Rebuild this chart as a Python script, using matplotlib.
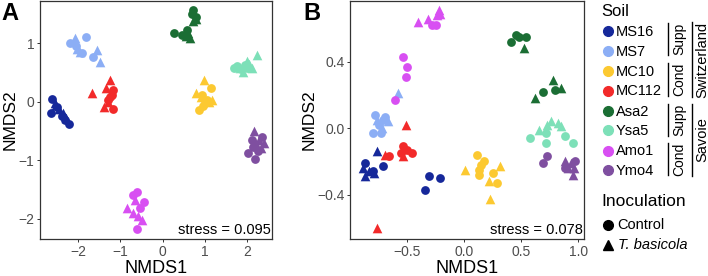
import matplotlib
matplotlib.use("Agg")
import matplotlib.pyplot as plt

plt.rcParams['font.family'] = ['Liberation Sans', 'DejaVu Sans']

soils = ["MS16", "MS7", "MC10", "MC112", "Asa2", "Ysa5", "Amo1", "Ymo4"]
soil_colors = ["#16289A", "#8CAEF5", "#FCC931", "#F22A2A", "#1B6E34", "#7DE0B8", "#D84FF2", "#7F4FA0"]

# Panel A: (x list, y list) per soil
A_control = {
    "MS16": ([-2.61, -2.65, -2.50, -2.38, -2.30, -2.22], [0.04, -0.19, -0.09, -0.25, -0.31, -0.38]),
    "MS7": ([-2.19, -1.80, -1.90, -1.65, -2.05], [1.01, 1.11, 0.83, 0.76, 0.95]),
    "MC10": ([1.14, 0.93, 1.01, 0.87, 0.95, 1.05], [0.23, 0.11, -0.03, -0.14, -0.08, 0.02]),
    "MC112": ([-1.17, -1.24, -1.17, -1.28, -1.20], [0.19, 0.07, -0.12, 0.03, 0.12]),
    "Asa2": ([0.72, 0.80, 0.26, 0.46, 0.57, 0.70], [1.57, 1.44, 1.17, 1.14, 1.22, 1.50]),
    "Ysa5": ([1.68, 1.77, 1.85, 1.95, 2.00], [0.58, 0.60, 0.55, 0.62, 0.57]),
    "Amo1": ([-0.61, -0.70, -0.45, -0.53, -0.61], [-1.55, -1.60, -1.71, -1.82, -2.18]),
    "Ymo4": ([2.35, 2.11, 2.03, 2.19, 2.15, 2.25], [-0.60, -0.65, -0.88, -0.98, -0.77, -0.85]),
}
A_basicola = {
    "MS16": ([-2.55, -2.45, -2.35, -2.52, -2.28], [-0.03, -0.12, -0.20, -0.06, -0.28]),
    "MS7": ([-2.08, -1.55, -1.49, -2.02, -1.95], [1.08, 0.88, 0.68, 0.90, 0.85]),
    "MC10": ([0.97, 0.80, 1.17, 1.10, 0.92], [0.37, 0.14, 0.03, 0.00, 0.08]),
    "MC112": ([-1.67, -1.24, -1.33, -1.38, -1.30], [0.15, 0.37, 0.23, -0.085, 0.00]),
    "Asa2": ([0.72, 0.78, 0.65, 0.55, 0.60], [1.37, 1.42, 1.08, 1.12, 1.18]),
    "Ysa5": ([2.24, 1.99, 1.83, 2.11, 1.91, 2.05], [0.80, 0.70, 0.57, 0.57, 0.51, 0.65]),
    "Amo1": ([-0.84, -0.69, -0.49, -0.65, -0.58], [-1.82, -1.91, -2.02, -1.68, -1.95]),
    "Ymo4": ([2.17, 2.39, 2.28, 2.22, 2.32], [-0.51, -0.71, -0.66, -0.72, -0.79]),
}

# Panel B
B_control = {
    "MS16": ([-0.87, -0.71, -0.80, -0.31, -0.21, -0.34], [-0.21, -0.23, -0.26, -0.29, -0.30, -0.37]),
    "MS7": ([-0.78, -0.69, -0.75, -0.80, -0.73, -0.71], [0.08, 0.07, 0.02, -0.03, -0.03, 0.05]),
    "MC10": ([0.11, 0.17, 0.15, 0.13, 0.13, 0.25, 0.29], [-0.16, -0.20, -0.22, -0.25, -0.28, -0.27, -0.33]),
    "MC112": ([-0.54, -0.50, -0.46, -0.55, -0.66], [-0.11, -0.13, -0.15, -0.15, -0.17]),
    "Asa2": ([0.41, 0.45, 0.48, 0.54, 0.69, 0.80], [0.52, 0.56, 0.55, 0.55, 0.22, 0.23]),
    "Ysa5": ([0.58, 0.72, 0.72, 0.88, 0.95], [-0.06, -0.09, -0.03, -0.05, -0.09]),
    "Amo1": ([-0.28, -0.25, -0.54, -0.50, -0.51, -0.61], [0.62, 0.62, 0.43, 0.37, 0.31, 0.17]),
    "Ymo4": ([0.69, 0.73, 0.88, 0.97], [-0.21, -0.17, -0.24, -0.20]),
}
B_basicola = {
    "MS16": ([-0.76, -0.89, -0.87, -0.79, -0.83], [-0.14, -0.24, -0.29, -0.27, -0.26]),
    "MS7": ([-0.58, -0.67, -0.76, -0.72], [0.21, 0.04, 0.05, 0.00]),
    "MC10": ([0.01, 0.31, 0.22, 0.23], [-0.25, -0.23, -0.32, -0.43]),
    "MC112": ([-0.51, -0.76, -0.69, -0.54], [0.02, -0.60, -0.16, -0.17]),
    "Asa2": ([0.52, 0.62, 0.78, 0.85], [0.48, 0.18, 0.29, 0.24]),
    "Ysa5": ([0.66, 0.73, 0.76, 0.82, 0.85], [-0.01, 0.02, 0.04, 0.03, 0.01]),
    "Amo1": ([-0.40, -0.32, -0.22, -0.21, -0.24], [0.64, 0.66, 0.71, 0.69, 0.68]),
    "Ymo4": ([0.88, 0.94, 0.91, 0.96, 0.95], [-0.20, -0.21, -0.24, -0.24, -0.28]),
}

A_xticks = [-2, -1, 0, 1, 2]
A_yticks = [-2, -1, 0, 1]
B_xticks = [-0.5, 0.0, 0.5, 1.0]
B_yticks = [-0.4, 0.0, 0.4]
stress_A = "stress = 0.095"
stress_B = "stress = 0.078"

W, H = 708, 276
fig = plt.figure(figsize=(W / 100, H / 100), dpi=100)

def px_axes(l, r, t, b):
    return fig.add_axes([l / W, 1 - b / H, (r - l) / W, (b - t) / H])

TICKC = "#4D4D4D"

def style(ax, xt, yt, xfmt, yfmt):
    for s in ax.spines.values():
        s.set_color("#333333")
        s.set_linewidth(0.9)
    ax.set_xticks(xt)
    ax.set_yticks(yt)
    ax.set_xticklabels([xfmt(v).replace("-", "\u2212") for v in xt])
    ax.set_yticklabels([yfmt(v).replace("-", "\u2212") for v in yt])
    ax.tick_params(length=2.5, width=0.7, color="#333333", labelsize=10,
                   labelcolor=TICKC, pad=1.5)
    ax.set_xlabel("NMDS1", fontsize=13, labelpad=1)
    ax.set_ylabel("NMDS2", fontsize=12.5, labelpad=0.5)

def draw(ax, ctrl, tb):
    for soil, col in zip(soils, soil_colors):
        x, y = ctrl[soil]
        ax.scatter(x, y, s=40, marker="o", color=col, linewidths=0, zorder=3)
        x, y = tb[soil]
        ax.scatter(x, y, s=48, marker="^", color=col, linewidths=0, zorder=3)

axA = px_axes(40, 272, 1, 239)
draw(axA, A_control, A_basicola)
axA.set_xlim(-2.9, 2.59)
axA.set_ylim(-2.35, 1.72)
style(axA, A_xticks, A_yticks, lambda v: f"{v:d}", lambda v: f"{v:d}")
axA.text(0.995, 0.01, stress_A, transform=axA.transAxes, ha="right", va="bottom", fontsize=10.5)

axB = px_axes(350, 584, 1, 239)
draw(axB, B_control, B_basicola)
axB.set_xlim(-1.0, 1.05)
axB.set_ylim(-0.668, 0.766)
style(axB, B_xticks, B_yticks, lambda v: f"{v:.1f}", lambda v: f"{v:.1f}")
axB.text(0.995, 0.01, stress_B, transform=axB.transAxes, ha="right", va="bottom", fontsize=10.5)

# overlay in pixel coordinates for panel tags and legend
ov = fig.add_axes([0, 0, 1, 1], zorder=-1)
ov.set_xlim(0, W)
ov.set_ylim(H, 0)
ov.axis("off")
ov.patch.set_alpha(0)
fig.text(1 / W, 1 - 2 / H, "A", fontsize=17, fontweight="bold", ha="left", va="top")
fig.text(303 / W, 1 - 2 / H, "B", fontsize=17, fontweight="bold", ha="left", va="top")

ov.text(601.5, 11, "Soil", fontsize=12, ha="left", va="center")
entry_y = [31, 51, 71, 90.7, 111, 130.3, 150.7, 170.3]
for soil, col, yy in zip(soils, soil_colors, entry_y):
    ov.plot([607.7], [yy], marker="o", markersize=7, color=col, linestyle="none", clip_on=False)
    ov.text(615.5, yy + 0.5, soil, fontsize=10.5, ha="left", va="center")

def bracket(x, y0, y1, label, tx, fs):
    ov.plot([x, x], [y0, y1], color="black", lw=1.0, clip_on=False)
    ov.text(tx, (y0 + y1) / 2, label, rotation=90, ha="center", va="center", fontsize=fs)

bracket(667.7, 23, 55, "Supp", 679, 10)
bracket(667.7, 63, 96, "Cond", 679, 10)
bracket(667.7, 104, 136, "Supp", 679, 10)
bracket(667.7, 143, 175, "Cond", 679, 10)
bracket(692.3, 22, 97, "Switzerland", 702, 10.5)
bracket(692.3, 104, 176, "Savoie", 702, 10.5)

ov.text(601.5, 202, "Inoculation", fontsize=12.5, ha="left", va="center")
ov.plot([607.7], [225], marker="o", markersize=7, color="black", linestyle="none", clip_on=False)
ov.text(617.5, 225, "Control", fontsize=10.5, ha="left", va="center")
ov.plot([607.7], [245], marker="^", markersize=7.5, color="black", linestyle="none", clip_on=False)
ov.text(617.5, 245, "T. basicola", fontsize=10.5, ha="left", va="center", style="italic")

fig.savefig("out.png", dpi=100)
